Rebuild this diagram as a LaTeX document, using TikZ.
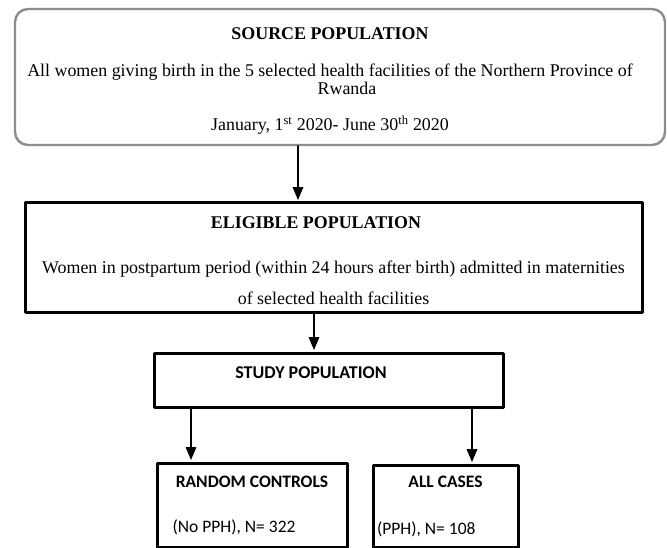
\documentclass[tikz,border=0pt]{standalone}
\usepackage{fontspec}
\setmainfont{Liberation Serif}
\newfontfamily\calibri{Carlito}
\usepackage{tikz}
\usetikzlibrary{arrows}
\definecolor{sqsqsq}{rgb}{0.55,0.55,0.55}
\tikzstyle{every node}=[font=\fontsize{17.9}{18.5}\selectfont]
\tikzstyle{flowbox}=[draw,line width=3pt,inner sep=0pt]
\tikzstyle{flowarrow}=[->,line width=2pt,shorten >=1.5pt]

\begin{document}
\begin{tikzpicture}[line cap=round,line join=round,>=triangle 45,x=1pt,y=1pt]
        \useasboundingbox (0,0) rectangle (667,-548);
        \clip (0,0) rectangle (667,-548);
        % top two boxes
        \node[draw=sqsqsq,line width=2.4pt,rounded corners=13pt,minimum width=650pt,minimum height=136pt,align=center,inner sep=0pt] (source) at (340,-77) {\rule{0pt}{20pt}\hspace*{-20pt}\textbf{SOURCE POPULATION}\\[18pt]\hspace*{-20pt}All women giving birth in the 5 selected health facilities of the Northern Province of\\\hspace*{14pt}Rwanda\\[17.5pt]\hspace*{-20pt}January, 1\textsuperscript{st} 2020- June 30\textsuperscript{th} 2020};
        \node[flowbox,minimum width=617pt,minimum height=109pt,align=center] (eligible) at (333.5,-257.5) {\rule{0pt}{18pt}\hspace*{-35pt}\textbf{ELIGIBLE POPULATION}\\[26.5pt]Women in postpartum period (within 24 hours after birth) admitted in maternities\\[12.5pt]of selected health facilities};
        % lower boxes
        \node[flowbox,minimum width=349pt,minimum height=54pt,font=\calibri\fontsize{18}{18}\selectfont\bfseries,text height=12pt,text depth=16pt] (study) at (328.5,-380) {\hspace*{-35pt}STUDY POPULATION};
        \node[flowbox,minimum width=190pt,minimum height=84pt,align=left,font=\calibri\fontsize{17.5}{17.5}\selectfont] (controls) at (252,-505) {\makebox[159pt]{\bfseries RANDOM CONTROLS}\\[27.5pt](No PPH), N= 322};
        \node[flowbox,minimum width=145pt,minimum height=82pt,align=left,font=\calibri\fontsize{17.5}{17.5}\selectfont] (cases) at (445.5,-506) {\makebox[137pt]{\bfseries ALL CASES}\\[29.5pt](PPH), N= 108};
        \draw[flowarrow] ([xshift=-42pt]source.south) -- ([xshift=-42pt]source.south |- eligible.north);
        \draw[flowarrow] ([xshift=-19.5pt]eligible.south) -- ([xshift=-19.5pt]eligible.south |- study.north);
        \draw[flowarrow] ([xshift=-137.5pt]study.south) -- ([xshift=-137.5pt]study.south |- controls.north);
        \draw[flowarrow] ([xshift=143.5pt]study.south) -- ([xshift=143.5pt]study.south |- cases.north);
        \end{tikzpicture}
\end{document}
